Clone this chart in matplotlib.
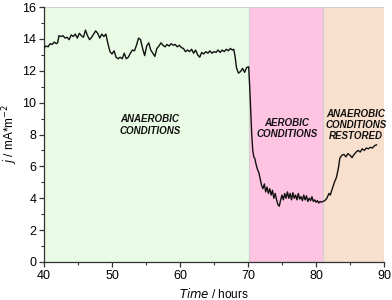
import matplotlib
matplotlib.use("Agg")
import matplotlib.pyplot as plt
from matplotlib.ticker import MultipleLocator

plt.rcParams['font.family'] = ['Liberation Sans', 'DejaVu Sans']

time_h = [40.0, 40.3, 40.6, 40.9, 41.2, 41.5, 41.8, 42.0, 42.2, 42.5, 42.8, 43.1, 43.4, 43.7,
          44.0, 44.3, 44.6, 44.9, 45.2, 45.5, 45.8, 46.1, 46.4, 46.7, 47.0, 47.3, 47.6, 47.9,
          48.2, 48.5, 48.8, 49.1, 49.4, 49.7, 50.0, 50.3, 50.6, 50.9, 51.2, 51.5, 51.8, 52.1,
          52.4, 52.7, 53.0, 53.3, 53.6, 53.9, 54.2, 54.5, 54.8, 55.1, 55.4, 55.7, 56.0, 56.3,
          56.6, 56.9, 57.2, 57.5, 57.8, 58.1, 58.4, 58.7, 59.0, 59.3, 59.6, 59.9, 60.2, 60.5,
          60.8, 61.1, 61.4, 61.7, 62.0, 62.3, 62.6, 62.9, 63.2, 63.5, 63.8, 64.1, 64.4, 64.7,
          65.0, 65.3, 65.6, 65.9, 66.2, 66.5, 66.8, 67.1, 67.4, 67.7, 67.9, 68.1, 68.3, 68.6,
          68.9, 69.2, 69.5, 69.8, 70.1, 70.25, 70.4, 70.55, 70.7, 70.85, 71.0, 71.2, 71.4, 71.6,
          71.8, 72.0, 72.2, 72.4, 72.6, 72.8, 73.0, 73.2, 73.4, 73.6, 73.8, 74.0, 74.2, 74.4,
          74.6, 74.8, 75.0, 75.2, 75.4, 75.6, 75.8, 76.0, 76.2, 76.4, 76.6, 76.8, 77.0, 77.2,
          77.4, 77.6, 77.8, 78.0, 78.2, 78.4, 78.6, 78.8, 79.0, 79.2, 79.4, 79.6, 79.8, 80.0,
          80.2, 80.4, 80.6, 80.8, 81.0, 81.3, 81.6, 81.9, 82.1, 82.4, 82.7, 83.0, 83.3, 83.5,
          83.8, 84.1, 84.4, 84.7, 85.0, 85.3, 85.6, 85.9, 86.2, 86.5, 86.8, 87.1, 87.4, 87.7,
          88.0, 88.3, 88.6, 88.9]
current_density = [13.45, 13.55, 13.5, 13.7, 13.65, 13.8, 13.7, 13.75, 14.2, 14.15, 14.2, 14.05, 14.1, 13.95,
                   14.25, 14.15, 14.3, 14.05, 14.35, 14.2, 14.1, 14.55, 14.2, 13.95, 14.1, 14.3, 14.5, 14.35,
                   14.05, 14.3, 14.15, 14.3, 13.7, 13.2, 13.05, 13.25, 12.85, 12.75, 12.85, 12.75, 13.1, 12.75,
                   12.85, 13.1, 13.3, 13.25, 13.6, 14.05, 13.95, 13.4, 12.95, 13.55, 13.75, 13.3, 13.1, 12.9,
                   13.4, 13.55, 13.75, 13.6, 13.5, 13.65, 13.55, 13.7, 13.6, 13.65, 13.5, 13.6, 13.45, 13.4,
                   13.2, 13.3, 13.2, 13.35, 13.1, 13.3, 13.0, 12.85, 13.15, 13.05, 13.2, 13.1, 13.25, 13.1,
                   13.2, 13.15, 13.3, 13.15, 13.3, 13.2, 13.35, 13.25, 13.4, 13.3, 13.35, 12.9, 12.2, 11.85,
                   11.95, 12.15, 11.9, 12.2, 12.25, 11.0, 9.5, 8.0, 7.0, 6.6, 6.5, 6.1, 5.8, 5.6,
                   5.2, 4.8, 4.6, 4.9, 4.4, 4.7, 4.3, 4.6, 4.2, 4.5, 4.0, 4.3, 3.9, 3.6,
                   3.5, 3.9, 4.2, 3.9, 4.3, 4.0, 4.4, 4.0, 4.3, 3.9, 4.35, 4.0, 4.2, 3.9,
                   4.3, 3.95, 4.1, 3.85, 4.2, 3.9, 4.15, 3.8, 4.0, 3.85, 4.1, 3.8, 3.9, 3.75,
                   3.85, 3.7, 3.8, 3.75, 3.8, 3.85, 4.0, 4.3, 4.2, 4.6, 5.0, 5.3, 5.9, 6.5,
                   6.7, 6.75, 6.6, 6.8, 6.7, 6.55, 6.75, 6.9, 7.0, 6.9, 7.1, 7.0, 7.15, 7.1,
                   7.2, 7.15, 7.3, 7.35]

region_edges = [40, 70.2, 81.1, 90]
region_colors = ['#e9fbe4', '#ffc4e2', '#f9dfcd']
region_labels = ['ANAEROBIC\nCONDITIONS', 'AEROBIC\nCONDITIONS', 'ANAEROBIC\nCONDITIONS\nRESTORED']
label_x = [55.6, 75.7, 85.9]
label_y = [8.6, 8.4, 8.6]

fig = plt.figure(figsize=(3.92, 3.00), dpi=100)
ax = fig.add_axes([44/392, 38/300, 340/392, 255/300])

for i in range(3):
    ax.axvspan(region_edges[i], region_edges[i+1], facecolor=region_colors[i],
               edgecolor='#d0d0d0', linewidth=0.8, zorder=0)

ax.plot(time_h, current_density, color='#111111', linewidth=1.0, zorder=3)

for lx, ly, txt in zip(label_x, label_y, region_labels):
    ax.text(lx, ly, txt, ha='center', va='center', fontsize=7, fontweight='bold',
            fontstyle='italic', color='#111111', linespacing=1.15, zorder=4)

ax.set_xlim(40, 90)
ax.set_ylim(0, 16)
ax.xaxis.set_major_locator(MultipleLocator(10))
ax.xaxis.set_minor_locator(MultipleLocator(5))
ax.yaxis.set_major_locator(MultipleLocator(2))
ax.yaxis.set_minor_locator(MultipleLocator(1))
for s in ['top', 'right']:
    ax.spines[s].set_visible(False)
for s in ['left', 'bottom']:
    ax.spines[s].set_color('#333333')
    ax.spines[s].set_linewidth(0.9)
ax.tick_params(which='major', direction='out', length=3.5, width=0.9, color='#333333',
               labelsize=9, pad=2)
ax.tick_params(which='minor', direction='out', length=2, width=0.8, color='#333333')

ax.set_xlabel(r'$\it{Time}$ / hours', fontsize=8.5, labelpad=4)
ax.set_ylabel(r'$\it{j}$ / mA*m$^{-2}$', fontsize=8.5, labelpad=2)

fig.savefig('out.png', dpi=100)
